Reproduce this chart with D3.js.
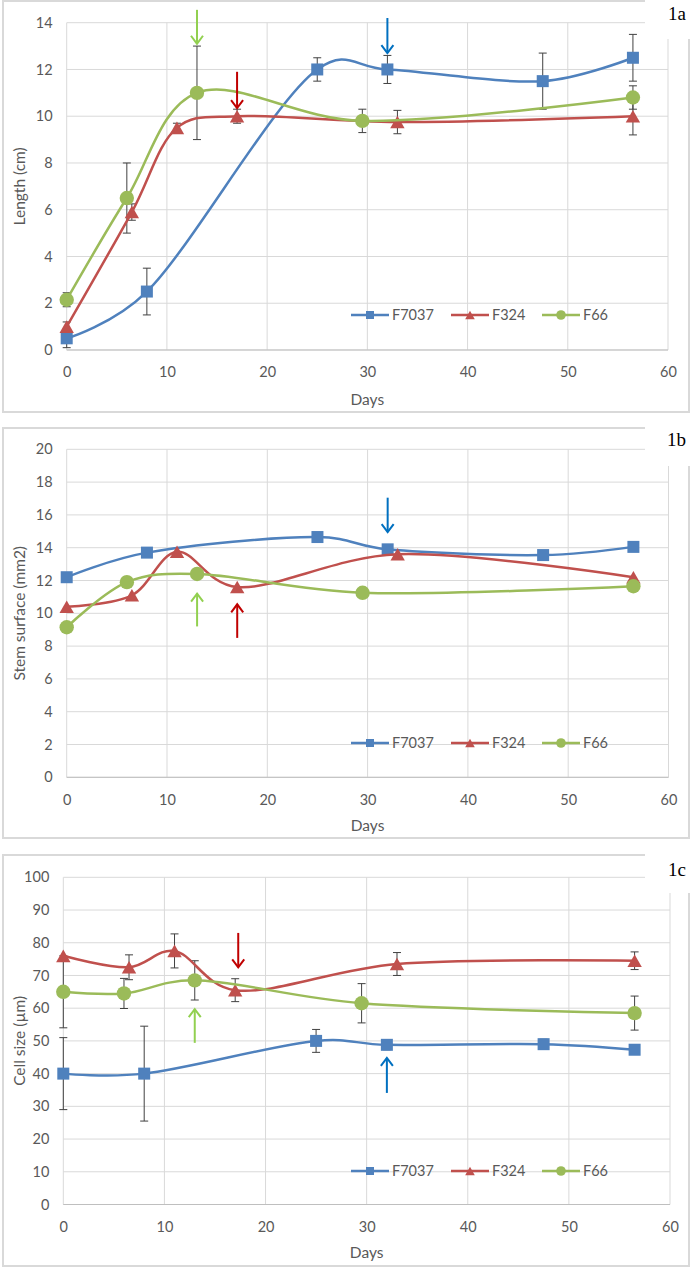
<!DOCTYPE html>
<html><head><meta charset="utf-8">
<script src="https://cdn.jsdelivr.net/npm/d3@7"></script>
<style>body{margin:0;background:#fff;} svg{display:block;font-family:Lato,"Open Sans",sans-serif;}</style>
</head><body>
<svg id="c" width="692" height="1268"></svg>
<script>
// ---------- data ----------
const seriesNames = ["F7037", "F324", "F66"];
const xTicks = [0, 10, 20, 30, 40, 50, 60];

const daysF7037 = [0, 8, 25, 32, 47.5, 56.5];
const daysF324  = [0, 6.5, 11, 17, 33, 56.5];
const daysF66   = [0, 6, 13, 29.5, 56.5];

// 1a Length (cm)
const lengthTicks = [0, 2, 4, 6, 8, 10, 12, 14];
const lengthF7037 = [0.5, 2.5, 12, 12, 11.5, 12.5];
const lengthF7037Err = [0.4, 1, 0.5, 0.6, 1.2, 1];
const lengthF324 = [1.0, 5.9, 9.5, 10, 9.75, 10];
const lengthF324Err = [0.2, 0.35, 0.2, 0.3, 0.5, 0.8];
const lengthF66 = [2.15, 6.5, 11, 9.8, 10.8];
const lengthF66Err = [0.3, 1.5, 2, 0.5, 0.5];
const lengthArrowDays = [13, 17, 32];
const lengthArrowFrom = [14.55, 11.9, 14.2];
const lengthArrowTo = [13.1, 10.35, 12.7];

// 1b Stem surface (mm2)
const stemTicks = [0, 2, 4, 6, 8, 10, 12, 14, 16, 18, 20];
const stemF7037 = [12.2, 13.7, 14.65, 13.9, 13.55, 14.05];
const stemF324 = [10.4, 11.1, 13.75, 11.6, 13.6, 12.2];
const stemF66 = [9.15, 11.9, 12.4, 11.25, 11.65];
const stemArrowDays = [13, 17, 32];
const stemArrowFrom = [9.2, 8.5, 17.05];
const stemArrowTo = [11.2, 10.55, 14.95];

// 1c Cell size (µm)
const cellTicks = [0, 10, 20, 30, 40, 50, 60, 70, 80, 90, 100];
const cellF7037 = [40, 40, 50, 48.8, 49, 47.3];
const cellF7037Err = [11, 14.5, 3.5, 1.5, 1.5, 1];
const cellF324 = [76, 72.5, 77.5, 65.5, 73.5, 74.5];
const cellF324Err = [0, 3.8, 5.2, 3.5, 3.5, 2.7];
const cellF66 = [65, 64.5, 68.5, 61.5, 58.5];
const cellF66Err = [11, 4.6, 6, 6, 5.2];
const cellArrowDays = [13, 17.3, 32];
const cellArrowFrom = [49.4, 83, 34.1];
const cellArrowTo = [59.7, 72.5, 44.8];

// ---------- styling ----------
const colors = ["#4F81BD", "#C0504D", "#9BBB59"];
const arrowColors = ["#92D050", "#C00000", "#0070C0"];
const markers = ["square", "triangle", "circle"];
const textColor = "#595959";
const gridColor = "#D9D9D9";

const svg = d3.select("#c");

function buildSeries(daysArr, valArr, errArr) {
  return daysArr.map((d, i) => ({ day: d, v: valArr[i], e: errArr ? errArr[i] : 0 }));
}

const panels = [
  {
    box: [3, 1, 689, 412], plot: { l: 66.7, r: 668, t: 22.7, b: 350 },
    yMax: 14, yTicks: lengthTicks, yTitle: "Length (cm)", label: "1a", labelY: 20,
    legendY: 315, xTitleY: 405,
    series: [buildSeries(daysF7037, lengthF7037, lengthF7037Err), buildSeries(daysF324, lengthF324, lengthF324Err), buildSeries(daysF66, lengthF66, lengthF66Err)],
    arrows: { days: lengthArrowDays, from: lengthArrowFrom, to: lengthArrowTo }
  },
  {
    box: [3, 428, 689, 838], plot: { l: 66.7, r: 668.5, t: 449.3, b: 777.3 },
    yMax: 20, yTicks: stemTicks, yTitle: "Stem surface (mm2)", label: "1b", labelY: 446,
    legendY: 743, xTitleY: 831,
    series: [buildSeries(daysF7037, stemF7037, null), buildSeries(daysF324, stemF324, null), buildSeries(daysF66, stemF66, null)],
    arrows: { days: stemArrowDays, from: stemArrowFrom, to: stemArrowTo }
  },
  {
    box: [3, 855, 689, 1266], plot: { l: 63.3, r: 670, t: 877.3, b: 1204.5 },
    yMax: 100, yTicks: cellTicks, yTitle: "Cell size (µm)", label: "1c", labelY: 876,
    legendY: 1171, xTitleY: 1258,
    series: [buildSeries(daysF7037, cellF7037, cellF7037Err), buildSeries(daysF324, cellF324, cellF324Err), buildSeries(daysF66, cellF66, cellF66Err)],
    arrows: { days: cellArrowDays, from: cellArrowFrom, to: cellArrowTo }
  }
];

function drawMarker(g, type, x, y, color, s) {
  if (type === "square") {
    g.append("rect").attr("x", x - s / 2).attr("y", y - s / 2).attr("width", s).attr("height", s).attr("fill", color);
  } else if (type === "circle") {
    g.append("circle").attr("cx", x).attr("cy", y).attr("r", s * 0.6).attr("fill", color);
  } else {
    const w = s * 1.2, h = s * 1.05;
    g.append("path").attr("d", `M${x},${y - h / 2}L${x + w / 2},${y + h / 2}L${x - w / 2},${y + h / 2}Z`).attr("fill", color);
  }
}

panels.forEach(p => {
  const g = svg.append("g");
  const [bx0, by0, bx1, by1] = p.box;
  g.append("rect").attr("x", bx0).attr("y", by0).attr("width", bx1 - bx0).attr("height", by1 - by0)
    .attr("fill", "#fff").attr("stroke", gridColor).attr("stroke-width", 2);

  const x = d3.scaleLinear().domain([0, 60]).range([p.plot.l, p.plot.r]);
  const y = d3.scaleLinear().domain([0, p.yMax]).range([p.plot.b, p.plot.t]);

  // gridlines
  const grid = g.append("g").attr("stroke", gridColor).attr("stroke-width", 1);
  p.yTicks.forEach(t => grid.append("line").attr("x1", p.plot.l).attr("x2", p.plot.r).attr("y1", y(t)).attr("y2", y(t)));
  xTicks.forEach(t => grid.append("line").attr("x1", x(t)).attr("x2", x(t)).attr("y1", p.plot.t).attr("y2", p.plot.b));
  g.append("line").attr("x1", p.plot.l).attr("x2", p.plot.r).attr("y1", p.plot.b).attr("y2", p.plot.b)
    .attr("stroke", "#BFBFBF").attr("stroke-width", 1);

  // axes (labels only)
  const ya = g.append("g").attr("transform", `translate(${p.plot.l - 6},0)`)
    .call(d3.axisLeft(y).tickValues(p.yTicks).tickSize(0).tickPadding(8).tickFormat(d3.format("d")));
  ya.select(".domain").remove();
  ya.selectAll("text").attr("fill", textColor).style("font-size", "14.5px").style("font-family", "Lato, sans-serif");

  const xa = g.append("g").attr("transform", `translate(0,${p.plot.b + 13})`)
    .call(d3.axisBottom(x).tickValues(xTicks).tickSize(0).tickPadding(4).tickFormat(d3.format("d")));
  xa.select(".domain").remove();
  xa.selectAll("text").attr("fill", textColor).style("font-size", "14.5px").style("font-family", "Lato, sans-serif");

  // titles
  g.append("text").attr("x", (p.plot.l + p.plot.r) / 2).attr("y", p.xTitleY).attr("text-anchor", "middle")
    .attr("fill", textColor).style("font-size", "15.5px").text("Days");
  g.append("text").attr("transform", `translate(20,${(p.plot.t + p.plot.b) / 2}) rotate(-90)`)
    .attr("text-anchor", "middle").attr("dy", "0.35em").attr("fill", textColor).style("font-size", "15.5px").text(p.yTitle);

  // panel label
  g.append("rect").attr("x", 645).attr("y", by0 - 2).attr("width", 47).attr("height", 40).attr("fill", "#fff");
  g.append("text").attr("x", 686).attr("y", p.labelY).attr("text-anchor", "end")
    .style("font-family", "'Liberation Serif','Times New Roman',serif").style("font-size", "19px").attr("fill", "#000").text(p.label);

  // error bars
  p.series.forEach((s, si) => {
    s.filter(d => d.e > 0).forEach(d => {
      const eg = g.append("g").attr("stroke", "#404040").attr("stroke-width", 1);
      const cx = x(d.day), y1 = y(d.v + d.e), y2 = y(d.v - d.e);
      eg.append("line").attr("x1", cx).attr("x2", cx).attr("y1", y1).attr("y2", y2);
      eg.append("line").attr("x1", cx - 4).attr("x2", cx + 4).attr("y1", y1).attr("y2", y1);
      eg.append("line").attr("x1", cx - 4).attr("x2", cx + 4).attr("y1", y2).attr("y2", y2);
    });
  });

  // lines + markers
  const line = d3.line().x(d => x(d.day)).y(d => y(d.v)).curve(d3.curveCatmullRom.alpha(0.25));
  p.series.forEach((s, si) => {
    g.append("path").datum(s).attr("d", line).attr("fill", "none").attr("stroke", colors[si]).attr("stroke-width", 2.5);
    s.forEach(d => drawMarker(g, markers[si], x(d.day), y(d.v), colors[si], 12));
  });

  // arrows
  p.arrows.days.forEach((day, i) => {
    const ax = x(day), yf = y(p.arrows.from[i]), yt = y(p.arrows.to[i]);
    const dir = yt > yf ? 1 : -1;
    const ag = g.append("g").attr("stroke", arrowColors[i]).attr("stroke-width", 2).attr("fill", "none");
    ag.append("line").attr("x1", ax).attr("x2", ax).attr("y1", yf).attr("y2", yt);
    ag.append("path").attr("d", `M${ax - 6},${yt - dir * 8}L${ax},${yt}L${ax + 6},${yt - dir * 8}`);
  });

  // legend
  const legX = [351, 451, 542];
  seriesNames.forEach((n, i) => {
    const lg = g.append("g");
    lg.append("line").attr("x1", legX[i]).attr("x2", legX[i] + 38).attr("y1", p.legendY).attr("y2", p.legendY)
      .attr("stroke", colors[i]).attr("stroke-width", 2.5);
    drawMarker(lg, markers[i], legX[i] + 19, p.legendY, colors[i], 8);
    lg.append("text").attr("x", legX[i] + 41).attr("y", p.legendY).attr("dy", "0.35em").attr("fill", textColor)
      .style("font-size", "14.5px").text(n);
  });
});
</script>
</body></html>
